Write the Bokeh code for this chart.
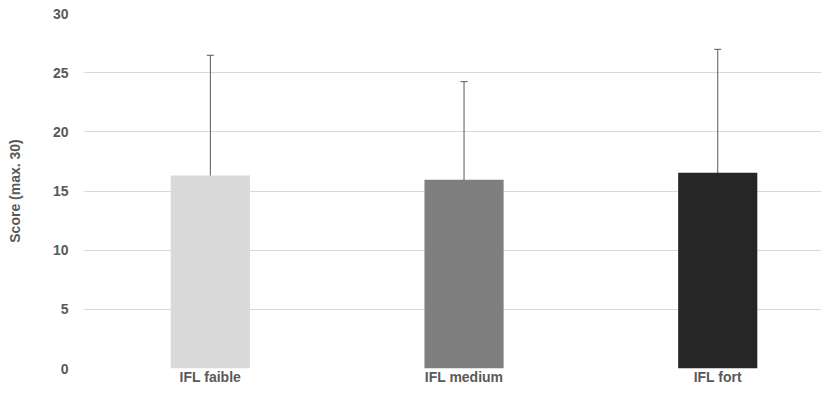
from bokeh.plotting import figure
from bokeh.models import ColumnDataSource, Range1d, FixedTicker, Whisker, TeeHead
from bokeh.embed import file_html
from bokeh.resources import INLINE

categories = ["IFL faible", "IFL medium", "IFL fort"]
means = [16.32, 15.96, 16.54]
err_low = [6.19, 7.71, 6.00]
err_high = [26.47, 24.24, 26.97]
colors = ["#d9d9d9", "#7f7f7f", "#262626"]
y_ticks = [0, 5, 10, 15, 20, 25, 30]

xpos = [i + 0.5 for i in range(len(categories))]
src = ColumnDataSource(dict(x=xpos, top=means, lower=err_low, upper=err_high, color=colors))

p = figure(width=821, height=387, output_backend="svg", toolbar_location=None,
           x_range=Range1d(0, 2.909), y_range=Range1d(0, 30),
           min_border_left=83, min_border_right=0, min_border_top=13, min_border_bottom=17)
p.outline_line_color = None
p.background_fill_color = "white"
p.border_fill_color = "white"

p.vbar(x="x", top="top", bottom=0, width=0.312, fill_color="color", line_color=None, source=src)

w = Whisker(base="x", lower="lower", upper="upper", source=src,
            line_color="#595959", line_width=1,
            upper_head=TeeHead(size=7, line_color="#595959", line_width=1),
            lower_head=TeeHead(size=7, line_color="#595959", line_width=1))
p.add_layout(w)

font = "Liberation Sans"
p.xaxis.ticker = FixedTicker(ticks=xpos)
p.xaxis.major_label_overrides = {x: c for x, c in zip(xpos, categories)}
p.yaxis.ticker = FixedTicker(ticks=y_ticks)
for ax in (p.xaxis, p.yaxis):
    ax.axis_line_color = None
    ax.major_tick_line_color = None
    ax.minor_tick_line_color = None
    ax.major_tick_in = 0
    ax.major_tick_out = 0
    ax.major_label_text_font = font
    ax.major_label_text_font_style = "bold"
    ax.major_label_text_color = "#595959"
    ax.major_label_text_font_size = "14px"
p.xaxis.major_label_standoff = 0
p.yaxis.major_label_standoff = 15
p.yaxis.axis_label = "Score (max. 30)"
p.yaxis.axis_label_text_font = font
p.yaxis.axis_label_text_font_style = "bold"
p.yaxis.axis_label_text_color = "#595959"
p.yaxis.axis_label_text_font_size = "14px"
p.yaxis.axis_label_standoff = 27

p.xgrid.grid_line_color = None
p.ygrid.grid_line_color = "#d9d9d9"
p.ygrid.grid_line_width = 1

open("out.html", "w").write(file_html(p, INLINE))
